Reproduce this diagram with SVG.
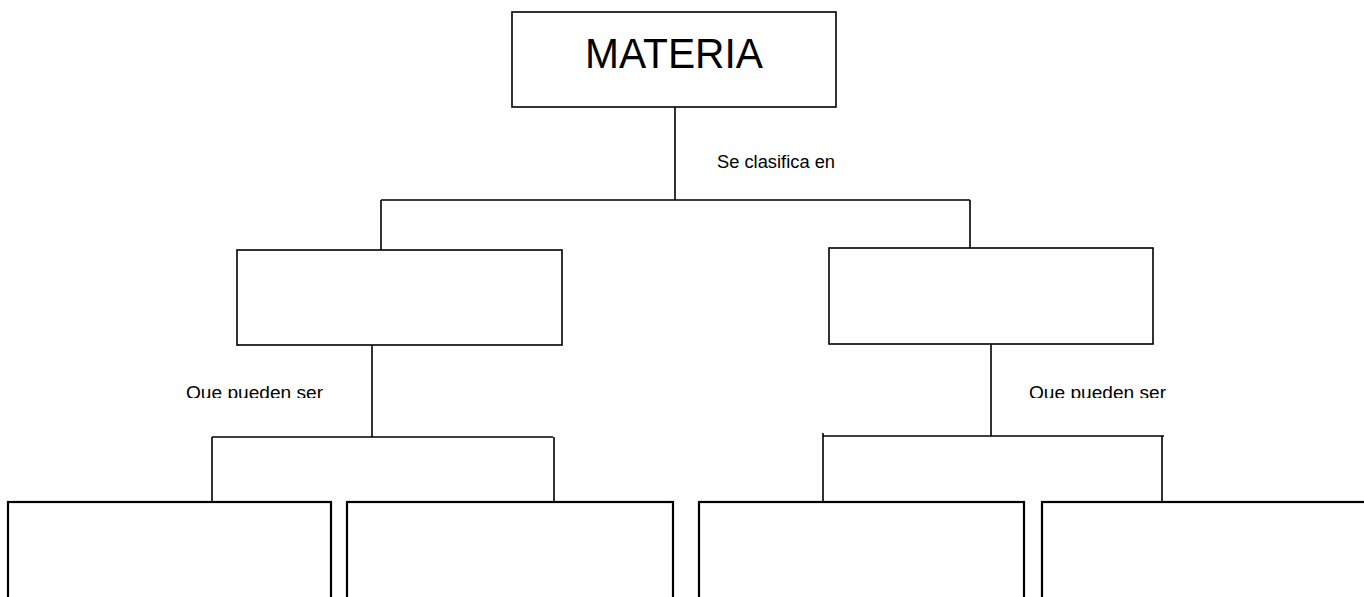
<svg xmlns="http://www.w3.org/2000/svg" width="1364" height="597" viewBox="0 0 1364 597">
  <style>
    .box { fill: #ffffff; stroke: #000000; stroke-width: 1.6; }
    .box2 { fill: #ffffff; stroke: #000000; stroke-width: 2.2; }
    .conn { fill: none; stroke: #000000; stroke-width: 1.6; }
    .lbl { font-family: "Liberation Sans", Arial, sans-serif; font-size: 17.5px; fill: #000000; }
    .title { font-family: "Liberation Sans", Arial, sans-serif; font-size: 42px; fill: #000000; }
  </style>
  <defs>
    <clipPath id="clipQ">
      <rect x="0" y="0" width="1364" height="398"/>
    </clipPath>
  </defs>
  <rect x="0" y="0" width="1364" height="597" fill="#ffffff"/>

  <g id="connectors">
    <path class="conn" d="M675 107 V200 M381 200 H970 M381 200 V250 M970 200 V248"/>
    <path class="conn" d="M372 345 V437 M212 437 H553 M212 437 V502 M554 437 V502"/>
    <path class="conn" d="M991 344 V436 M823 436 H1164 M823 433 V504 M1162 436 V502"/>
    <text class="lbl" x="717" y="168" textLength="118" lengthAdjust="spacingAndGlyphs">Se clasifica en</text>
    <text class="lbl" x="186" y="399" textLength="137" lengthAdjust="spacingAndGlyphs" clip-path="url(#clipQ)">Que pueden ser</text>
    <text class="lbl" x="1029" y="399" textLength="137" lengthAdjust="spacingAndGlyphs" clip-path="url(#clipQ)">Que pueden ser</text>
  </g>

  <g id="node-materia">
    <rect class="box" x="512" y="12" width="324" height="95"/>
    <text class="title" x="585" y="68" textLength="178" lengthAdjust="spacingAndGlyphs">MATERIA</text>
  </g>
  <g id="node-left">
    <rect class="box" x="237" y="250" width="325" height="95"/>
  </g>
  <g id="node-right">
    <rect class="box" x="829" y="248" width="324" height="96"/>
  </g>
  <g id="node-b1">
    <rect class="box2" x="8" y="502" width="323" height="120"/>
  </g>
  <g id="node-b2">
    <rect class="box2" x="347" y="502" width="326" height="120"/>
  </g>
  <g id="node-b3">
    <rect class="box2" x="699" y="502" width="325" height="120"/>
  </g>
  <g id="node-b4">
    <rect class="box2" x="1042" y="502" width="340" height="120"/>
  </g>
</svg>
